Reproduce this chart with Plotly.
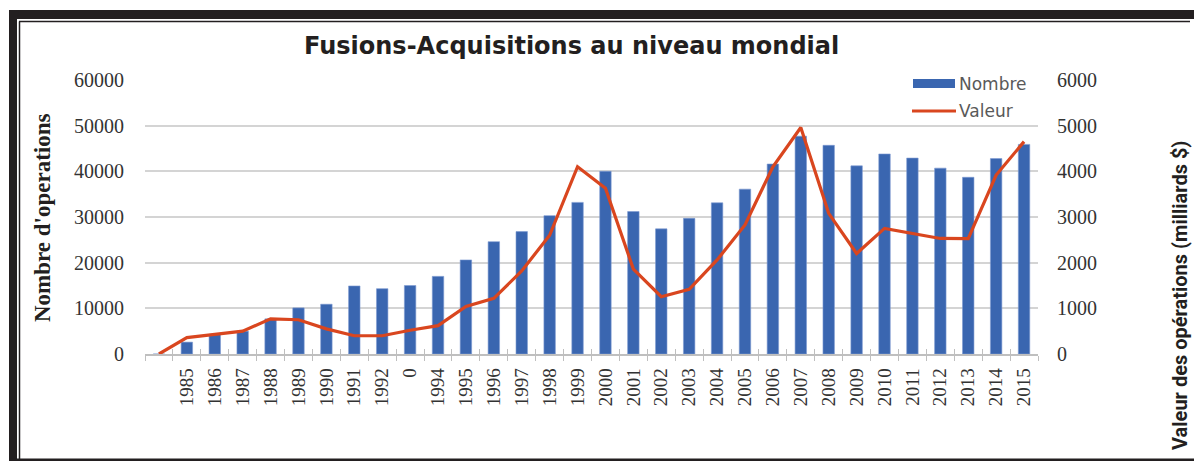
import plotly.graph_objects as go

# ---- data ----
categories = [" ", "1985", "1986", "1987", "1988", "1989", "1990", "1991", "1992", "0",
              "1994", "1995", "1996", "1997", "1998", "1999", "2000", "2001", "2002",
              "2003", "2004", "2005", "2006", "2007", "2008", "2009", "2010", "2011",
              "2012", "2013", "2014", "2015"]
nombre = [0, 2600, 4300, 5000, 7700, 10100, 10900, 14900, 14300, 15000,
          17000, 20600, 24600, 26800, 30300, 33200, 40000, 31200, 27400,
          29700, 33100, 36100, 41600, 47700, 45700, 41200, 43800, 42900,
          40700, 38700, 42800, 45900]
valeur = [0, 360, 430, 500, 770, 750, 550, 400, 400, 520,
          620, 1040, 1220, 1820, 2600, 4100, 3630, 1860, 1255,
          1415, 2060, 2825, 4100, 4960, 3080, 2200, 2750, 2640,
          2530, 2525, 3920, 4650]
left_ticks = [0, 10000, 20000, 30000, 40000, 50000, 60000]
right_ticks = [0, 1000, 2000, 3000, 4000, 5000, 6000]

title_text = "Fusions-Acquisitions au niveau mondial"
left_title = "Nombre d'operations"
right_title = "Valeur des opérations (milliards $)"
series_names = ["Nombre", "Valeur"]

# ---- layout geometry (pixels) ----
W, H = 1194, 461
PL, PR, PT, PB = 145, 1038, 80, 354
BLUE = "#3A66B0"
RED = "#D9461F"


def px(x):
    return (x - PL) / (PR - PL)


def py(y):
    return (PB - y) / (PB - PT)


fig = go.Figure()
fig.add_trace(go.Bar(x=categories, y=nombre, name=series_names[0],
                     marker=dict(color=BLUE, line=dict(color="#7E9BD1", width=0.6)),
                     yaxis="y", xaxis="x", showlegend=False))
fig.add_trace(go.Scatter(x=categories, y=valeur, name=series_names[1], mode="lines",
                         line=dict(color=RED, width=3.2),
                         yaxis="y2", xaxis="x", showlegend=False))
# helper trace so the overlay axis (inner tick marks) is drawn
fig.add_trace(go.Scatter(x=categories, y=[None] * len(categories), xaxis="x2", yaxis="y",
                         mode="lines", showlegend=False, hoverinfo="skip"))

shapes = []
black = "#231F20"
# outer frame pieces
shapes.append(dict(type="rect", xref="paper", yref="paper", x0=px(9), x1=px(1196),
                   y0=py(19), y1=py(10), fillcolor=black, line=dict(width=0)))
shapes.append(dict(type="line", xref="paper", yref="paper", x0=px(19), x1=px(1190),
                   y0=py(21.5), y1=py(21.5), line=dict(color=black, width=1.5)))
shapes.append(dict(type="rect", xref="paper", yref="paper", x0=px(9), x1=px(17),
                   y0=py(463), y1=py(10), fillcolor=black, line=dict(width=0)))
shapes.append(dict(type="line", xref="paper", yref="paper", x0=px(19.5), x1=px(19.5),
                   y0=py(459), y1=py(21.5), line=dict(color=black, width=1.5)))
shapes.append(dict(type="rect", xref="paper", yref="paper", x0=px(9), x1=px(1196),
                   y0=py(463), y1=py(458.5), fillcolor=black, line=dict(width=0)))
# manual legend symbols
shapes.append(dict(type="rect", xref="paper", yref="paper", x0=px(913), x1=px(955),
                   y0=py(88), y1=py(79), fillcolor=BLUE, line=dict(width=0)))
shapes.append(dict(type="line", xref="paper", yref="paper", x0=px(912), x1=px(956),
                   y0=py(111), y1=py(111), line=dict(color=RED, width=3)))

annotations = [
    dict(text=series_names[0], xref="paper", yref="paper", x=px(957), y=py(84),
         xanchor="left", yanchor="middle", showarrow=False,
         font=dict(family="DejaVu Sans", size=17, color="#595959")),
    dict(text=series_names[1], xref="paper", yref="paper", x=px(957), y=py(111),
         xanchor="left", yanchor="middle", showarrow=False,
         font=dict(family="DejaVu Sans", size=17, color="#595959")),
    dict(text="<b>" + left_title + "</b>", xref="paper", yref="paper", x=px(43), y=py(218),
         xanchor="center", yanchor="middle", textangle=-90, showarrow=False,
         font=dict(family="Liberation Serif", size=23, color="#231F20")),
    dict(text="<b>" + right_title + "</b>", xref="paper", yref="paper", x=px(1180), y=py(296),
         xanchor="center", yanchor="middle", textangle=-90, showarrow=False,
         font=dict(family="Roboto", size=20, color="#231F20")),
    dict(text="<b>" + title_text + "</b>", xref="paper", yref="paper", x=px(571), y=py(46),
         xanchor="center", yanchor="middle", showarrow=False,
         font=dict(family="DejaVu Sans", size=24, color="#231F20")),
]

fig.update_layout(
    width=W, height=H,
    margin=dict(l=PL, r=W - PR, t=PT, b=H - PB, pad=0),
    paper_bgcolor="white", plot_bgcolor="white",
    bargap=0.59,
    shapes=shapes, annotations=annotations,
    xaxis=dict(type="category", categoryorder="array", categoryarray=categories,
               tickson="boundaries", ticks="outside", ticklen=5, tickwidth=1.3,
               tickcolor="#BFBFBF", showline=True, linecolor="#BFBFBF", linewidth=1.5,
               showgrid=False, tickangle=-90, ticklabelstandoff=5, automargin=False,
               tickfont=dict(family="Liberation Serif", size=19, color="#333333")),
    xaxis2=dict(type="category", categoryorder="array", categoryarray=categories,
                overlaying="x", anchor="y", side="bottom", matches="x",
                tickson="boundaries", ticks="inside", ticklen=5, tickwidth=1.3,
                tickcolor="#BFBFBF", showline=False, showgrid=False,
                showticklabels=False, automargin=False),
    yaxis=dict(range=[0, 60000], tickvals=left_ticks, tickformat="d", showgrid=True,
               gridcolor="#D4D4D4", gridwidth=1.5, zeroline=False, showline=False,
               ticks="", ticklabelstandoff=20, automargin=False,
               tickfont=dict(family="Liberation Serif", size=20, color="#333333")),
    yaxis2=dict(range=[0, 6000], tickvals=right_ticks, tickformat="d", overlaying="y",
                side="right", showgrid=False, zeroline=False, showline=False, ticks="",
                ticklabelstandoff=18, automargin=False,
                tickfont=dict(family="Liberation Serif", size=20, color="#333333")),
)

fig.write_html("out.html", config={"displayModeBar": False},
               post_script="document.body.style.margin='0px';")
